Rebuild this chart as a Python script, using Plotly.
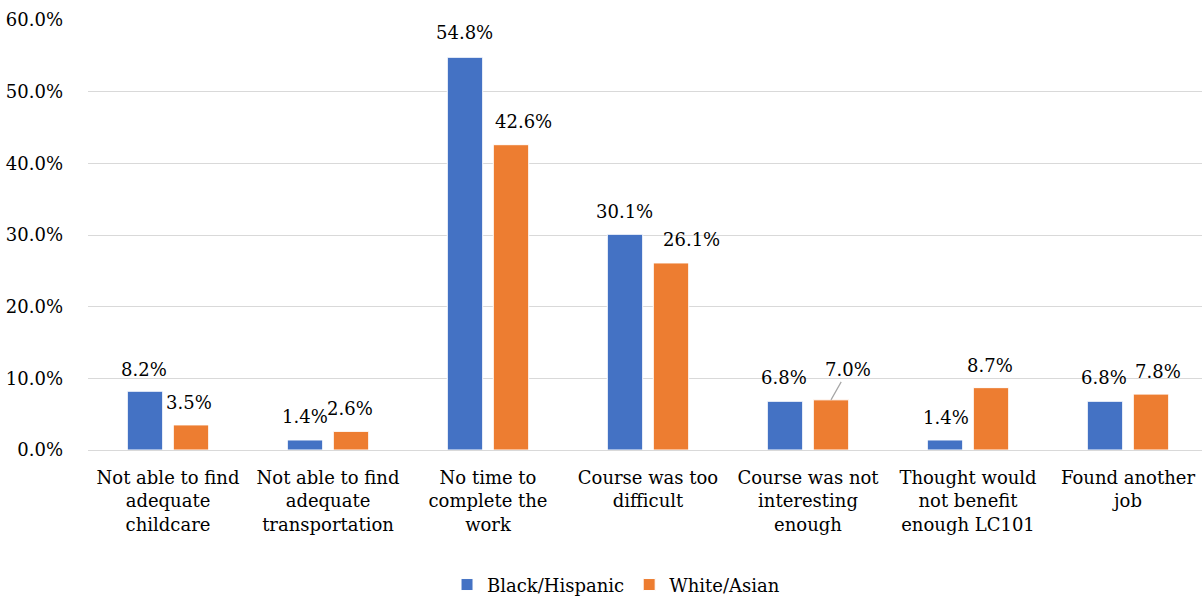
import plotly.graph_objects as go

categories = [
    "Not able to find<br>adequate<br>childcare",
    "Not able to find<br>adequate<br>transportation",
    "No time to<br>complete the<br>work",
    "Course was too<br>difficult",
    "Course was not<br>interesting<br>enough",
    "Thought would<br>not benefit<br>enough LC101",
    "Found another<br>job",
]
black_hispanic = [8.2, 1.4, 54.8, 30.1, 6.8, 1.4, 6.8]
white_asian = [3.5, 2.6, 42.6, 26.1, 7.0, 8.7, 7.8]
series_names = ["Black/Hispanic", "White/Asian"]
y_ticks = [0, 10, 20, 30, 40, 50, 60]
y_tick_labels = ["0.0%", "10.0%", "20.0%", "30.0%", "40.0%", "50.0%", "60.0%"]

# label placement offsets in pixels (dx, dy relative to bar top centre) - style only
blue_off = [(-1.5, 22), (0, 23), (-1, 24.5), (-1, 22.5), (-0.7, 23.5), (0.5, 22.5), (-1.3, 23.5)]
orange_off = [(-1.7, 22.5), (-1.5, 22.5), (12, 23.3), (20, 23), (17, 30), (-0.7, 22.5), (7, 22.5)]
leader = [False, False, False, False, True, False, False]

BLUE = "#4472C4"
ORANGE = "#ED7D31"
FONT = "DejaVu Serif"
FS = 18

fig = go.Figure()
fig.add_trace(go.Bar(x=list(range(len(categories))), y=black_hispanic, name=series_names[0],
                     marker=dict(color=BLUE, line=dict(color="white", width=1))))
fig.add_trace(go.Bar(x=list(range(len(categories))), y=white_asian, name=series_names[1],
                     marker=dict(color=ORANGE, line=dict(color="white", width=1))))

px_per_cat = 160.0
half = 23.0 / px_per_cat
for i, v in enumerate(black_hispanic):
    dx, dy = blue_off[i]
    fig.add_annotation(x=i - half, y=v, xref="x", yref="y", text=f"{v:.1f}%",
                       showarrow=False, xshift=dx, yshift=dy, yanchor="middle",
                       font=dict(family=FONT, size=FS, color="#000000"))
for i, v in enumerate(white_asian):
    dx, dy = orange_off[i]
    if leader[i]:
        fig.add_annotation(x=i + half, y=v, xref="x", yref="y", text=f"{v:.1f}%",
                           showarrow=True, arrowhead=0, arrowwidth=1.2, arrowcolor="#A6A6A6",
                           ax=dx, ay=-dy, standoff=0, yanchor="middle",
                           font=dict(family=FONT, size=FS, color="#000000"))
    else:
        fig.add_annotation(x=i + half, y=v, xref="x", yref="y", text=f"{v:.1f}%",
                           showarrow=False, xshift=dx, yshift=dy, yanchor="middle",
                           font=dict(family=FONT, size=FS, color="#000000"))

fig.update_layout(
    width=1202, height=598,
    margin=dict(l=88, r=0, t=20, b=148, autoexpand=False),
    paper_bgcolor="white", plot_bgcolor="white",
    barmode="group", bargap=0.425, bargroupgap=0.23,
    font=dict(family=FONT, size=FS, color="#000000"),
    xaxis=dict(tickmode="array", tickvals=list(range(len(categories))), ticktext=categories,
               range=[-0.5, 6.4625], showgrid=False, zeroline=False, showline=False,
               tickangle=0, automargin=False,
               ticks="", ticklabelstandoff=15, tickfont=dict(family=FONT, size=FS)),
    yaxis=dict(range=[0, 60], tickmode="array", tickvals=y_ticks, ticktext=y_tick_labels,
               showgrid=True, gridcolor="#D9D9D9", gridwidth=1, automargin=False,
               zeroline=True, zerolinecolor="#D9D9D9", zerolinewidth=1,
               showline=False, ticks="", ticklabelstandoff=24,
               tickfont=dict(family=FONT, size=FS)),
    legend=dict(orientation="h", xref="container", yref="container",
                x=0.5125, xanchor="center", y=0.022, yanchor="middle",
                font=dict(family=FONT, size=FS), itemwidth=30, traceorder="normal"),
)

fig.write_html("out.html")
